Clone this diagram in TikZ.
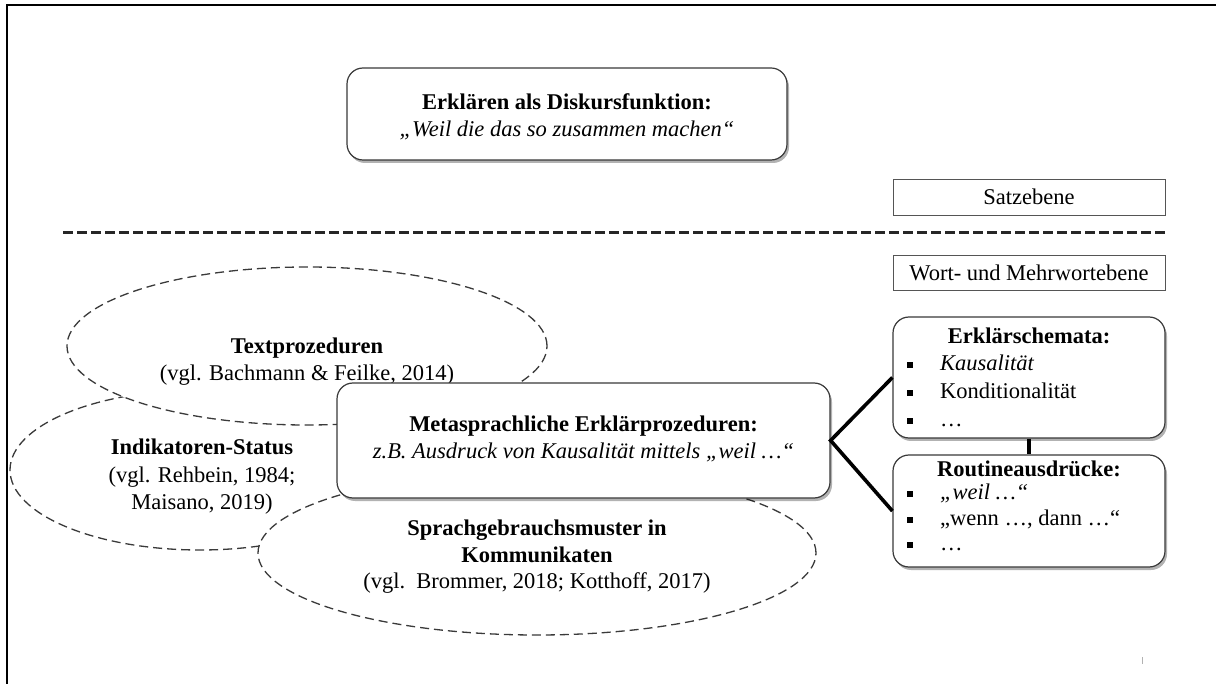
\documentclass[tikz,border=0pt]{standalone}
\usepackage{fontspec}
\setmainfont{Liberation Serif}
\usetikzlibrary{shadows,shapes.geometric}
\definecolor{edge}{HTML}{3A3A3A}
\definecolor{thinedge}{HTML}{555555}
\begin{document}
\begin{tikzpicture}[x=1pt,y=-1pt,
  txt/.style={font=\fontsize{22.5}{27}\selectfont, inner sep=0pt, align=center},
  itemtxt/.style={font=\fontsize{22.5}{27}\selectfont, inner sep=0pt, anchor=west,
    text height=15pt, text depth=4pt},
  roundbox/.style={draw=edge, line width=1.2pt, rounded corners=16pt, fill=white,
    inner sep=0pt, drop shadow={shadow xshift=2pt, shadow yshift=-3pt, fill=black, opacity=0.3}},
  levelbox/.style={draw=thinedge, line width=0.9pt, fill=white, inner sep=0pt,
    font=\fontsize{22.5}{27}\selectfont},
  cloud/.style={ellipse, draw=edge, line width=1.3pt, dash pattern=on 9pt off 5pt,
    fill=white, inner sep=0pt},
  bul/.style={fill=black, minimum size=6pt, inner sep=0pt},
  link/.style={line width=3.6pt, black}
]
\useasboundingbox (0,0) rectangle (1216,684);
\fill[white] (0,0) rectangle (1216,684);

% page frame (left and top edge)
\coordinate (fbl) at (7,684);
\coordinate (ftl) at (7,5);
\coordinate (ftr) at (1216,5);
\draw[line width=2.4pt] (fbl) -- (ftl) -- (ftr);

% discourse level
\node[roundbox, minimum width=440pt, minimum height=92pt] (disk) at (567,114) {};
\node[txt] (disktext) at (567,117)
  {\textbf{Erklären als Diskursfunktion:}\\\textit{„Weil die das so zusammen machen“}};

\node[levelbox, minimum width=272pt, minimum height=36pt] (satz) at (1029,197) {Satzebene};

% separator between the levels
\coordinate (sepl) at (63,233);
\coordinate (sepr) at (1165,233);
\draw[line width=3pt, dash pattern=on 10pt off 4pt, black!85] (sepl) -- (sepr);

\node[levelbox, minimum width=272pt, minimum height=35pt] (wort) at (1029,272.5) {Wort- und Mehrwortebene};

% overlapping research perspectives
\node[cloud, minimum width=380pt, minimum height=160pt] (indik) at (200,470) {};
\node[cloud, minimum width=480pt, minimum height=158pt] (textp) at (307,346) {};
\node[cloud, minimum width=558pt, minimum height=164pt] (sprach) at (537,553) {};

\node[txt] (textptext) at (307,362)
  {\textbf{Textprozeduren}\\(vgl. Bachmann \& Feilke, 2014)};
\node[txt, font=\fontsize{22.5}{27.5}\selectfont] (indiktext) at (202,477)
  {\textbf{Indikatoren-Status}\\(vgl. Rehbein, 1984;\\Maisano, 2019)};
\node[txt, font=\fontsize{22.5}{26.5}\selectfont] (sprachtext) at (537,557)
  {\textbf{Sprachgebrauchsmuster in}\\\textbf{Kommunikaten}\\(vgl.\ \ Brommer, 2018; Kotthoff, 2017)};

% central procedure box
\node[roundbox, minimum width=493pt, minimum height=115pt] (meta) at (583.5,440.5) {};
\node[txt] (metatext) at (583.5,439)
  {\textbf{Metasprachliche Erklärprozeduren:}\\\textit{z.B. Ausdruck von Kausalität mittels „weil …“}};

% explanation schemes
\node[roundbox, minimum width=272pt, minimum height=121pt] (schema) at (1029,377.5) {};
\node[txt] (schematitle) at (1029,336) {\textbf{Erklärschemata:}};
\node[bul] (sb1) at (910,365) {};
\node[bul] (sb2) at (910,393) {};
\node[bul] (sb3) at (910,421) {};
\node[itemtxt] (si1) at (940,365) {\textit{Kausalität}};
\node[itemtxt] (si2) at (940,393) {Konditionalität};
\node[itemtxt] (si3) at (940,421) {…};

% routine expressions
\node[roundbox, minimum width=272pt, minimum height=112pt] (routine) at (1029,511) {};
\node[txt] (routinetitle) at (1029,469) {\textbf{Routineausdrücke:}};
\node[bul] (rb1) at (910,494) {};
\node[bul] (rb2) at (910,520) {};
\node[bul] (rb3) at (910,545) {};
\node[itemtxt] (ri1) at (940,494) {\textit{„weil …“}};
\node[itemtxt] (ri2) at (940,520) {„wenn …, dann …“};
\node[itemtxt] (ri3) at (940,545) {…};

% connectors
\draw[link] (schema.west) -- (meta.east) -- (routine.west);
\draw[link, line width=4.5pt] (schema.south) -- (routine.north);

% small page mark
\coordinate (pm1) at (1142,657);
\coordinate (pm2) at (1142,664);
\draw[black!30, line width=1pt] (pm1) -- (pm2);
\end{tikzpicture}
\end{document}
